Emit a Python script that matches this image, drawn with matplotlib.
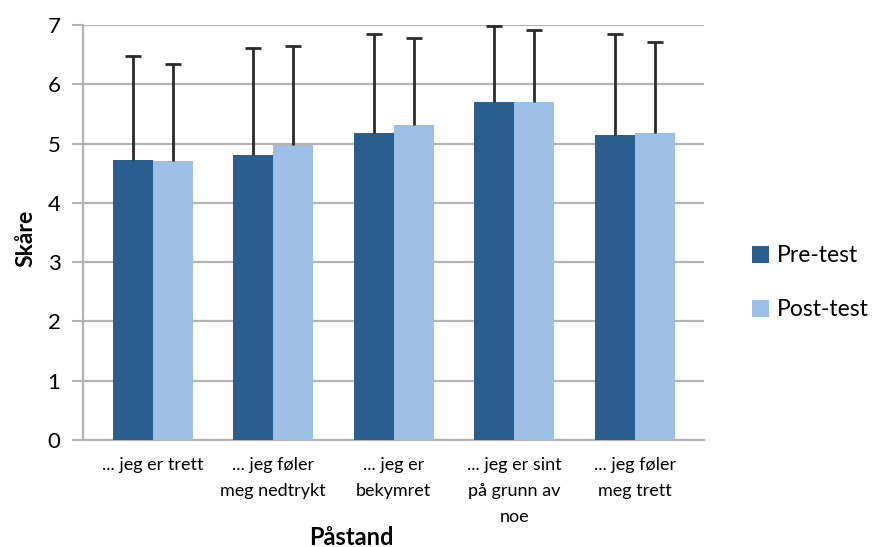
import matplotlib
matplotlib.use("Agg")
import matplotlib.pyplot as plt
import numpy as np
from matplotlib.patches import Patch

categories = ["... jeg er trett", "... jeg føler\nmeg nedtrykt", "... jeg er\nbekymret",
              "... jeg er sint\npå grunn av\nnoe", "... jeg føler\nmeg trett"]
pre_mean = [4.73, 4.80, 5.17, 5.70, 5.14]
pre_top = [6.48, 6.62, 6.85, 6.99, 6.85]
post_mean = [4.71, 4.98, 5.31, 5.70, 5.17]
post_top = [6.35, 6.64, 6.78, 6.91, 6.71]
series = ["Pre-test", "Post-test"]
yticks = [0, 1, 2, 3, 4, 5, 6, 7]

pre_err = np.array(pre_top) - np.array(pre_mean)
post_err = np.array(post_top) - np.array(post_mean)

plt.rcParams['font.family'] = ['Lato', 'DejaVu Sans']
fig = plt.figure(figsize=(8.75, 5.47), dpi=100)
ax = fig.add_axes([0.0945, 0.1956, 0.7101, 0.7587])

c_pre = "#2A5E8F"
c_post = "#9DBFE6"
x = np.arange(len(categories))
w = 0.332
for off, means, err, col in [(-w/2, pre_mean, pre_err, c_pre), (w/2, post_mean, post_err, c_post)]:
    ax.bar(x + off, means, w, color=col, zorder=3)
    eb = ax.errorbar(x + off, means, yerr=[np.zeros(len(means)), err], fmt='none',
                     ecolor="#2b2b2b", elinewidth=2, capsize=6, capthick=2, zorder=4)
    caps = eb[1]
    if len(caps) >= 2:
        caps[0].set_visible(False)

ax.set_xlim(-0.581, 4.575)
ax.set_ylim(0, 7)
ax.set_yticks(yticks)
ax.set_yticklabels([str(t) for t in yticks], fontsize=16)
ax.yaxis.grid(True, color="#B3B3B3", linewidth=1.6, zorder=0)
ax.set_axisbelow(True)
ax.tick_params(axis='y', length=8, width=1.5, color="#B3B3B3", pad=8)
ax.tick_params(axis='x', length=0, pad=12)
ax.set_xticks(x)
ax.set_xticklabels(categories, fontsize=13, linespacing=1.8, va='top')
for s in ["top", "right"]:
    ax.spines[s].set_visible(False)
for s in ["left", "bottom"]:
    ax.spines[s].set_color("#B3B3B3")
    ax.spines[s].set_linewidth(1.6)

ax.set_ylabel("Skåre", fontsize=16.5, fontweight='bold')
ax.yaxis.set_label_coords(-0.074, 0.487)
fig.text(0.402, 0.018, "Påstand", fontsize=17, fontweight='bold', ha='center', va='center')

handles = [Patch(facecolor=c_pre), Patch(facecolor=c_post)]
fig.legend(handles, series, loc='center left', bbox_to_anchor=(0.859, 0.483),
           frameon=False, fontsize=16.5, handlelength=0.75, handleheight=0.75,
           handletextpad=0.35, labelspacing=1.45, borderaxespad=0, borderpad=0)

fig.savefig("out.png", dpi=100)
